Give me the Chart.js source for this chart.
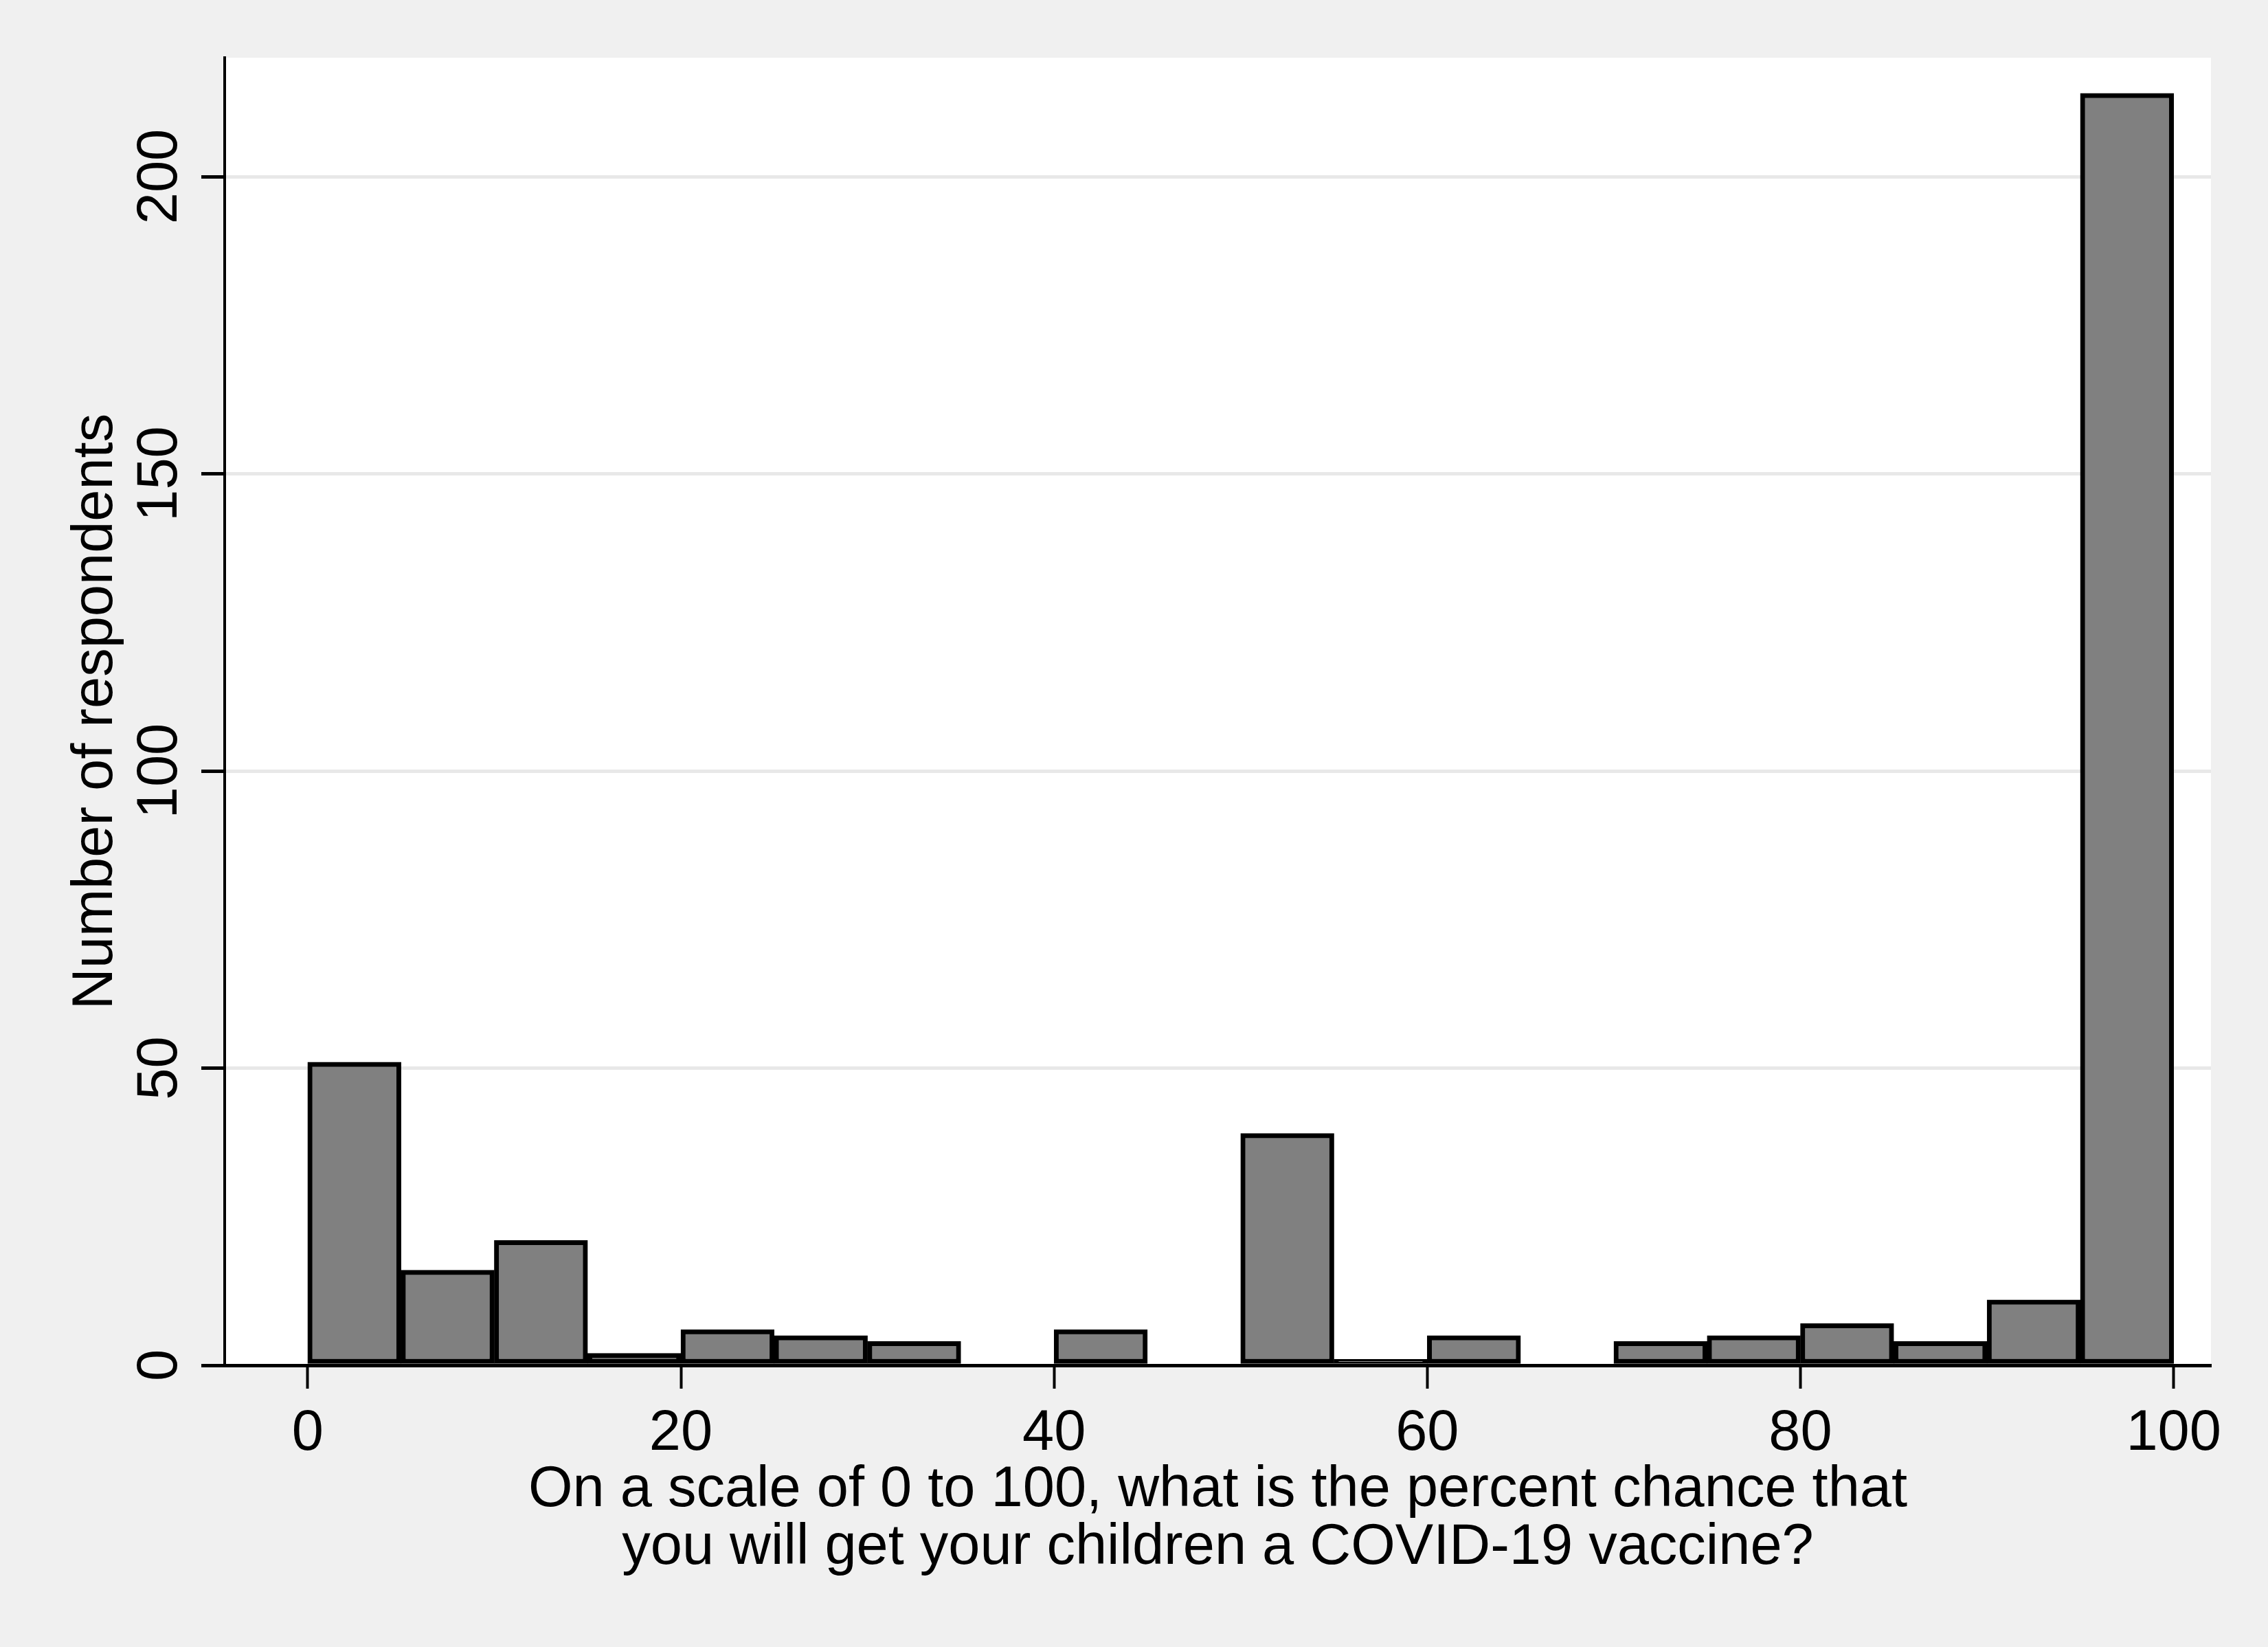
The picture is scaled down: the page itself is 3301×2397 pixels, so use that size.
<!DOCTYPE html>
<html>
<head>
<meta charset="utf-8">
<script src="https://cdn.jsdelivr.net/npm/chart.js@4.4.0/dist/chart.umd.min.js"></script>
<style>
  html, body { margin: 0; padding: 0; background: #f0f0f0; }
  canvas { display: block; }
</style>
</head>
<body>
<canvas id="histograma" width="3301" height="2397"></canvas>
<script>
// Bins of 5 points, x = centre of each bin
const binCenters = [2.5, 7.5, 12.5, 17.5, 22.5, 27.5, 32.5, 37.5, 42.5, 47.5,
                    52.5, 57.5, 62.5, 67.5, 72.5, 77.5, 82.5, 87.5, 92.5, 97.5];
const respondents = [51, 16, 21, 2, 6, 5, 4, 0, 6, 0,
                     39, 1, 5, 0, 4, 5, 7, 4, 11, 214];
const xTicks = [0, 20, 40, 60, 80, 100];
const yTicks = [0, 50, 100, 150, 200];

const fuente = "'Liberation Sans', Arial, sans-serif";

// Fondo gris y area del grafico en blanco
const fondo = {
  id: "fondo",
  beforeDraw(chart) {
    const { ctx, chartArea: a } = chart;
    ctx.save();
    ctx.fillStyle = "#f0f0f0";
    ctx.fillRect(0, 0, chart.width, chart.height);
    ctx.fillStyle = "#ffffff";
    ctx.fillRect(a.left, a.top, a.right - a.left, a.bottom - a.top);
    ctx.restore();
  },
};

let ctx = document.getElementById("histograma").getContext("2d");

let grafico = new Chart(ctx, {
  type: "bar",
  data: {
    datasets: [{
      data: binCenters.map((x, i) => ({ x: x, y: respondents[i] })),
      backgroundColor: "#808080",
      borderColor: "#000000",
      borderWidth: 7,
      borderSkipped: false,
      barPercentage: 1,
      categoryPercentage: 1,
    }],
  },
  options: {
    responsive: false,
    animation: false,
    layout: { padding: { left: 0, top: 84, right: 83, bottom: 0 } },
    plugins: {
      legend: { display: false },
      tooltip: { enabled: false },
    },
    scales: {
      x: {
        type: "linear",
        min: -4.45,
        max: 102,
        offset: false,
        afterBuildTicks: (s) => { s.ticks = xTicks.map(v => ({ value: v })); },
        afterFit: (s) => { s.height = 410; },
        grid: {
          offset: false,
          drawOnChartArea: false,
          tickLength: 34,
          tickWidth: 4,
          tickColor: "#000000",
        },
        border: { display: true, color: "#000000", width: 5 },
        ticks: {
          color: "#000000",
          padding: 16,
          maxRotation: 0,
          autoSkip: false,
          font: { family: fuente, size: 83, lineHeight: 1.2 },
        },
        title: {
          display: true,
          text: ["On a scale of 0 to 100, what is the percent chance that",
                 "you will get your children a COVID-19 vaccine?"],
          color: "#000000",
          font: { family: fuente, size: 83, lineHeight: 1.01 },
          padding: { top: 0, bottom: 102 },
        },
      },
      y: {
        min: 0,
        max: 220,
        afterBuildTicks: (s) => { s.ticks = yTicks.map(v => ({ value: v })); },
        afterFit: (s) => { s.width = 327; },
        grid: {
          color: "#e8e8e8",
          lineWidth: 5,
          tickLength: 34,
          tickWidth: 5,
          tickColor: "#000000",
        },
        border: { display: true, color: "#000000", width: 4 },
        ticks: {
          color: "#000000",
          minRotation: 90,
          maxRotation: 90,
          crossAlign: "center",
          padding: -10,
          autoSkip: false,
          font: { family: fuente, size: 83, lineHeight: 1.2 },
        },
        title: {
          display: true,
          text: "Number of respondents",
          color: "#000000",
          font: { family: fuente, size: 83, lineHeight: 1.01 },
          padding: { top: 98, bottom: 0 },
        },
      },
    },
  },
  plugins: [fondo],
});
</script>
</body>
</html>
